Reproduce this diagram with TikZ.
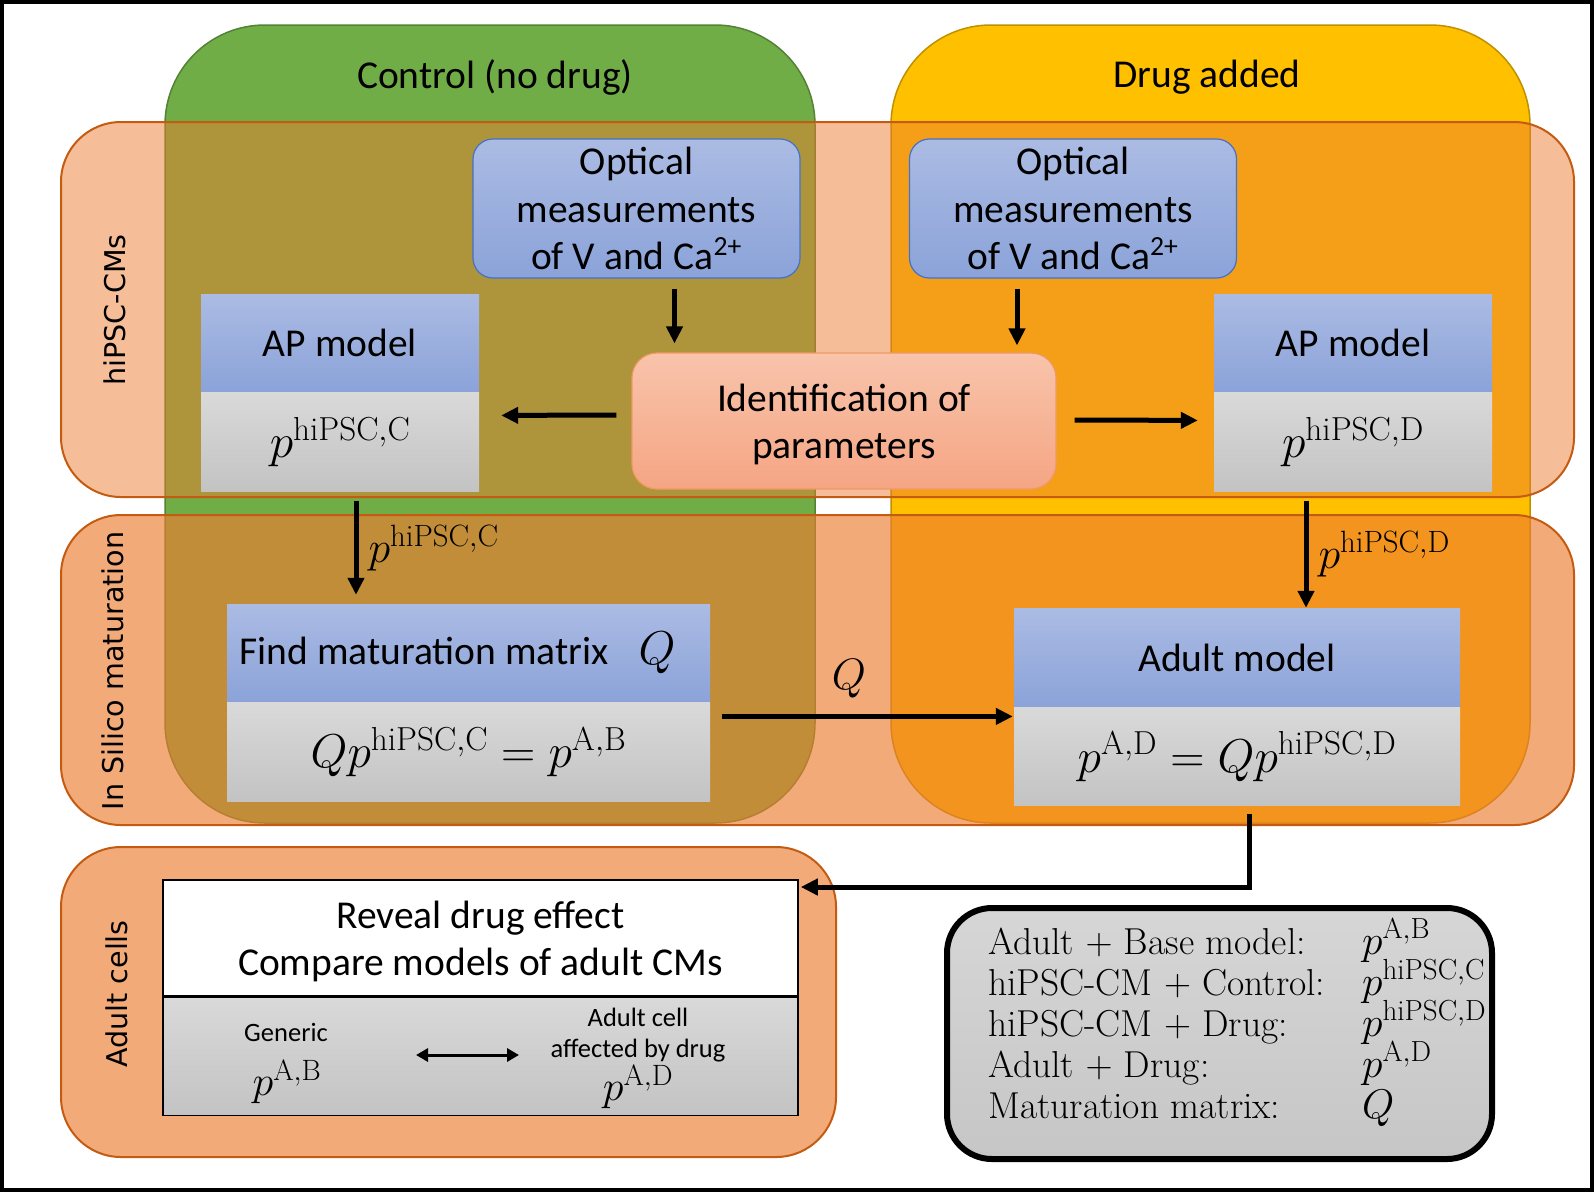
\RequirePackage{fix-cm}
\documentclass[tikz,border=0pt]{standalone}
\usepackage{amsmath}
\usepackage{fontspec}
\newfontfamily\calibri{Carlito}
\newfontfamily\sidesans{DejaVu Sans}
\usetikzlibrary{positioning, arrows.meta, calc}

\definecolor{ctrlgreen}{HTML}{70AD47}
\definecolor{ctrledge}{HTML}{548235}
\definecolor{drugyellow}{HTML}{FFC000}
\definecolor{drugedge}{HTML}{BF9000}
\definecolor{bandfill}{HTML}{ED7D31}
\definecolor{bandedge}{HTML}{C55A11}
\definecolor{blueTop}{HTML}{ABBBE3}
\definecolor{blueBot}{HTML}{8BA3D9}
\definecolor{blueEdge}{HTML}{4472C4}
\definecolor{grayTop}{HTML}{D9D9D9}
\definecolor{grayBot}{HTML}{C3C3C3}
\definecolor{legTop}{HTML}{D6D6D6}
\definecolor{legBot}{HTML}{C6C6C6}
\definecolor{idTop}{HTML}{F8C4AB}
\definecolor{idBot}{HTML}{F5A584}
\definecolor{idEdge}{HTML}{F09A63}

\newcommand{\boxfont}{\calibri\fontsize{39.5}{47.5}\selectfont}
\newcommand{\cellfont}{\calibri\fontsize{26.5}{31.5}\selectfont}
\newcommand{\cellmath}{\fontsize{42}{50}\selectfont}
\newcommand{\eqfont}{\fontsize{47.5}{57}\selectfont}
\newcommand{\lblfont}{\fontsize{44}{52}\selectfont}
\newcommand{\legfont}{\fontsize{37.5}{41}\selectfont}
\newcommand{\legmath}{\fontsize{41.5}{41}\selectfont}
\newcommand{\sidefont}{\sidesans\fontsize{28.6}{34}\selectfont}

\begin{document}
\begin{tikzpicture}
	[x=1pt, y=-1pt,
	column/.style={rounded corners=100pt, line width=1.5pt},
	band/.style={rounded corners=60pt, draw=bandedge, line width=2pt, fill=bandfill},
	coltitle/.style={font=\boxfont},
	side/.style={font=\sidefont, rotate=90},
	optic/.style={rounded corners=20pt, draw=blueEdge, line width=1.2pt, top color=blueTop, bottom color=blueBot,
		minimum width=327pt, minimum height=139pt, align=center, font=\boxfont, inner sep=0pt},
	blockhead/.style={top color=blueTop, bottom color=blueBot, align=center, font=\boxfont, inner sep=0pt},
	blockval/.style={top color=grayTop, bottom color=grayBot, font=\eqfont, inner sep=0pt},
	arr/.style={line width=5pt, -{Triangle[length=17pt,width=16pt]}},
	dbl/.style={line width=3pt, {Triangle[length=12pt,width=13pt]}-{Triangle[length=12pt,width=13pt]}},
	legtext/.style={font=\legfont, anchor=base west, inner sep=0pt}]
	\useasboundingbox (0,0) rectangle (1594,1192);
	% condition columns
	\draw[column, fill=ctrlgreen, draw=ctrledge] (165,25) rectangle (815,823);
	\draw[column, fill=drugyellow, draw=drugedge] (891,25) rectangle (1530,823);
	\node[coltitle] (ctrlTitle) at (495,77) {Control (no drug)};
	\node[coltitle] (drugTitle) at (1207,77) {Drug added};
	% stage bands
	\draw[band, fill opacity=0.5] (61,122) rectangle (1574,497);
	\draw[band, fill opacity=0.65] (61,515) rectangle (1574,825);
	\draw[band, fill opacity=0.65] (61,847) rectangle (836,1157);
	\node[side] (hipscLbl) at (115,310) {hiPSC-CMs};
	\node[side] (silicoLbl) at (113,671) {In Silico maturation};
	\node[side] (adultLbl) at (117,994) {Adult cells};
	% hiPSC stage
	\node[optic] (optL) at (636.5,208.5) {Optical\\measurements\\of V and Ca\textsuperscript{2+}};
	\node[optic] (optR) at (1073,208.5) {Optical\\measurements\\of V and Ca\textsuperscript{2+}};
	\node[rounded corners=25pt, draw=idEdge, line width=1.2pt, top color=idTop, bottom color=idBot,
		minimum width=424pt, minimum height=136pt, align=center, font=\boxfont, inner sep=0pt]
		(ident) at (844,421) {\rule{0pt}{34pt}Identification of\\parameters};
	\node[blockhead, minimum width=278pt, minimum height=98pt] (apL) at (340,343) {AP model};
	\node[blockval, minimum width=278pt, minimum height=99pt, below=0pt of apL] (apLv) {$p^{\mathrm{hiPSC,C}}$};
	\node[blockhead, minimum width=278pt, minimum height=98pt] (apR) at (1353,343) {AP model};
	\node[blockval, minimum width=278pt, minimum height=99pt, below=0pt of apR] (apRv) {$p^{\mathrm{hiPSC,D}}$};
	\draw[arr] ($(optL.south)+(38,10)$) -- ($(optL.south |- ident.north)+(38,-9)$);
	\draw[arr] ($(optR.south)+(-56,10)$) -- ($(optR.south |- ident.north)+(-56,-7)$);
	\draw[arr] ($(ident.west)+(-15,-6)$) -- ($(apLv.east)+(22,-26.5)$);
	\draw[arr] ($(ident.east)+(18,-1)$) -- ($(apRv.west)+(-16,-21.5)$);
	% maturation stage
	\node[blockhead, minimum width=483pt, minimum height=98pt] (findT) at (468.5,653)
		{Find maturation matrix\hspace{30pt}{\eqfont$Q$}\hspace{22pt}};
	\node[blockval, minimum width=483pt, minimum height=99pt, below=0pt of findT] (findV) {$Qp^{\mathrm{hiPSC,C}}=p^{\mathrm{A,B}}$};
	\node[blockhead, minimum width=446pt, minimum height=99pt] (adultT) at (1237,657.5) {Adult model};
	\node[blockval, minimum width=446pt, minimum height=98pt, below=0pt of adultT] (adultV) {$p^{\mathrm{A,D}}=Qp^{\mathrm{hiPSC,D}}$};
	\draw[arr] ($(apLv.south)+(16,9)$) -- ($(apLv.south |- findT.north)+(16,-9)$)
		node[midway, right=10pt, font=\lblfont, inner sep=0pt] (pcLbl) {$p^{\mathrm{hiPSC,C}}$};
	\draw[arr] ($(apRv.south)+(-47,9)$) -- ($(apRv.south |- adultT.north)+(-47,0)$)
		node[midway, right=10pt, font=\lblfont, inner sep=0pt] (pdLbl) {$p^{\mathrm{hiPSC,D}}$};
	\draw[arr] ($(findV.east)+(12,-35.5)$) -- ($(adultV.west)+(-1,-40)$);
	\node[font=\lblfont] (qLbl) at (849,679) {$Q$};
	% adult stage
	\node[fill=white, draw=black, line width=1.5pt, minimum width=635pt, minimum height=116pt,
		align=center, font=\boxfont, inner sep=0pt] (revT) at (480.5,938) {\rule{0pt}{34pt}Reveal drug effect\\Compare models of adult CMs};
	\node[top color=grayTop, bottom color=grayBot, draw=black, line width=1.5pt, minimum width=635pt,
		minimum height=118pt, inner sep=0pt, below=0pt of revT] (revV) {};
	\node[font=\cellfont] (gen) at (286,1032) {Generic};
	\node[font=\cellmath] (genP) at (287,1082) {$p^{\mathrm{A,B}}$};
	\node[font=\cellfont, align=center] (adl) at (638,1035) {Adult cell\\affected by drug};
	\node[font=\cellmath] (adlP) at (638,1087) {$p^{\mathrm{A,D}}$};
	\draw[dbl] ($(gen)!0.5!(genP)+(129.5,-2)$) -- ($(adl)!0.5!(adlP)+(-119,-6)$);
	\draw[arr] ($(adultV.south)+(12,8)$) |- ($(revT.east)+(2,-51)$);
	% legend
	\node[rounded corners=45pt, draw=black, line width=6pt, top color=legTop, bottom color=legBot,
		minimum width=545pt, minimum height=251pt] (legend) at (1219.5,1033.5) {};
	\foreach \name/\sym [count=\k from 0] in {{Adult $+$ Base model:}/{$p^{\mathrm{A,B}}$},
		{hiPSC-CM $+$ Control:}/{$p^{\mathrm{hiPSC,C}}$}, {hiPSC-CM $+$ Drug:}/{$p^{\mathrm{hiPSC,D}}$},
		{Adult $+$ Drug:}/{$p^{\mathrm{A,D}}$}, {Maturation matrix:}/{$Q$}}
	{
		\node[legtext] (legL\k) at (988,954+41*\k) {\name};
		\node[legtext, font=\legmath] (legR\k) at (1362,954+41*\k) {\sym};
	}
	% frame
	\draw[line width=4pt] (2,2) rectangle (1592,1190);
\end{tikzpicture}
\end{document}
